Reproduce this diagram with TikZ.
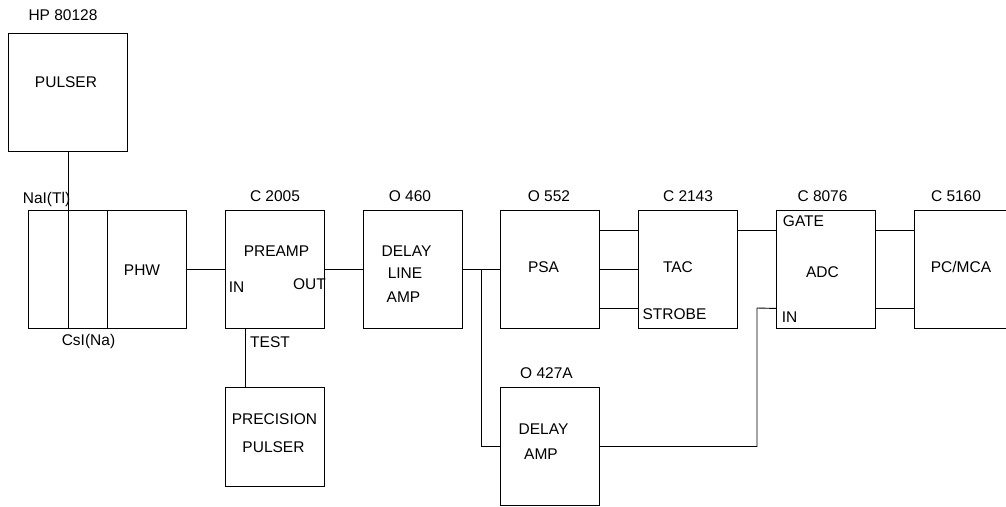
\documentclass[tikz,border=0pt]{standalone}
\usepackage{fontspec}
\setmainfont{Liberation Sans}
\usetikzlibrary{calc}
\begin{document}
\begin{tikzpicture}[x=1pt,y=-1pt,
  box/.style={draw, line width=0.9pt, inner sep=0pt, anchor=north west, minimum width=99pt, minimum height=118pt},
  wire/.style={line width=0.9pt},
  lbl/.style={inner sep=0pt, font=\fontsize{15.5}{18}\selectfont}]
\useasboundingbox (0,0) rectangle (1006,506);
\clip (0,0) rectangle (1006,506);
% boxes
\node[box, minimum width=119pt] (pulser) at (8,33) {};
\node[box, minimum width=158pt] (det) at (28,210) {};
\node[box] (preamp) at (225,210) {};
\node[box] (dla) at (363,210) {};
\node[box] (psa) at (500,210) {};
\node[box] (tac) at (638,210) {};
\node[box] (adc) at (776,210) {};
\node[box, minimum width=110pt] (pcmca) at (914,210) {};
\node[box, minimum height=99pt] (prec) at (225,387) {};
\node[box] (damp) at (500,387) {};
% texts
\node[lbl] (t1) at (63,15) {HP 80128};
\node[lbl] (t2) at (66,82) {PULSER};
\node[lbl] (t3) at (46.5,199) {NaI(Tl)};
\node[lbl] (t4) at (88.5,341) {CsI(Na)};
\node[lbl] (t5) at (142,270) {PHW};
\node[lbl] (t6) at (275,196) {C 2005};
\node[lbl] (t7) at (276.5,251) {PREAMP};
\node[lbl] (t8) at (236.5,287) {IN};
\node[lbl] (t9) at (309.5,284) {OUT};
\node[lbl] (t10) at (270,342) {TEST};
\node[lbl] (t11) at (274.5,419) {PRECISION};
\node[lbl] (t12) at (273.5,447) {PULSER};
\node[lbl] (t13) at (410,196) {O 460};
\node[lbl] (t14) at (406.5,251) {DELAY};
\node[lbl] (t15) at (405,273) {LINE};
\node[lbl] (t16) at (403.5,297) {AMP};
\node[lbl] (t17) at (549,196) {O 552};
\node[lbl] (t18) at (543.5,267) {PSA};
\node[lbl] (t19) at (688,196) {C 2143};
\node[lbl] (t20) at (678,267) {TAC};
\node[lbl] (t21) at (674.5,314) {STROBE};
\node[lbl] (t22) at (546.5,373) {O 427A};
\node[lbl] (t23) at (543.5,429) {DELAY};
\node[lbl] (t24) at (541,454) {AMP};
\node[lbl] (t25) at (822.5,196) {C 8076};
\node[lbl] (t26) at (803.5,221) {GATE};
\node[lbl] (t27) at (822.5,272) {ADC};
\node[lbl] (t28) at (789.5,317) {IN};
\node[lbl] (t29) at (956,196) {C 5160};
\node[lbl] (t30) at (961,267) {PC/MCA};
% connectors
\coordinate (br) at (481,269);
\coordinate (tst) at (245,328);
\coordinate (adin) at (757,308);
\draw[wire] (pulser.south) -- (pulser.south |- det.south);
\draw[wire] (det.north) -- (det.south);
\draw[wire] (det.east) -- (preamp.west);
\draw[wire] (preamp.east) -- (dla.west);
\draw[wire] (dla.east) -- (psa.west);
\draw[wire] (br) |- (damp.west);
\draw[wire] (tst) -- (tst |- prec.north);
\draw[wire] ($(psa.east)+(0,-39)$) -- ($(tac.west)+(0,-39)$);
\draw[wire] (psa.east) -- (tac.west);
\draw[wire] ($(psa.east)+(0,39)$) -- ($(tac.west)+(0,39)$);
\draw[wire] ($(tac.east)+(0,-39)$) -- ($(adc.west)+(0,-39)$);
\draw[wire] ($(adc.east)+(0,-39)$) -- ($(pcmca.west)+(0,-39)$);
\draw[wire] ($(adc.east)+(0,39)$) -- ($(pcmca.west)+(0,39)$);
\draw[wire] (damp.east) -| (adin) -- ($(adc.west)+(0,39)$);
\end{tikzpicture}
\end{document}
